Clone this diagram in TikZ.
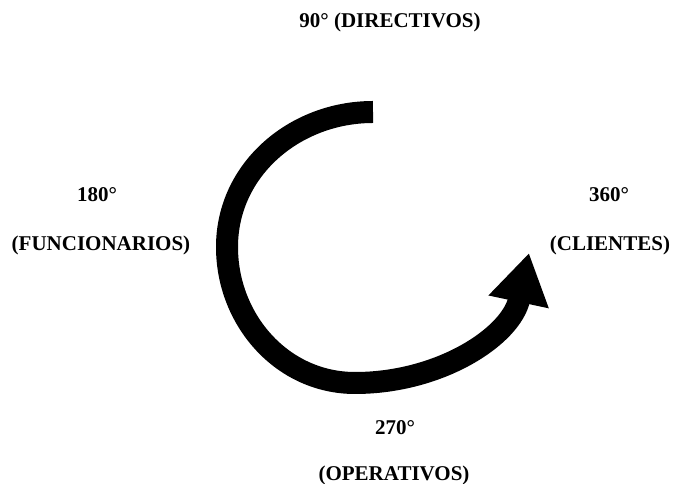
\documentclass[tikz,border=0pt]{standalone}
\usepackage{fontspec}
\setmainfont{Liberation Serif}
\usetikzlibrary{arrows.meta,positioning}

\tikzset{
  grado/.style={font=\fontsize{21}{25}\selectfont\bfseries, inner sep=0pt},
  giro/.style={line width=22pt, -{Triangle[width=58pt,length=50pt]}}
}

\begin{document}
\begin{tikzpicture}[x=1pt,y=1pt]
    \useasboundingbox (0,0) rectangle (673,484);
    % Arrow of the rotation
    \coordinate (inicio) at (373,372);
    \coordinate (izq) at (227,237);
    \coordinate (abajo) at (355,101);
    \coordinate (punta) at (529,231);
    \draw[giro] (inicio) to[out=180,in=90] (izq)
        to[out=-90,in=180] (abajo) to[out=0,in=-102] (punta);
    % Labels
    \node[grado] (noventa) at (390,462) {90° (DIRECTIVOS)};
    \node[grado] (ciento) at (97,289) {180°};
    \node[grado] (funcionarios) at (101,239) {(FUNCIONARIOS)};
    \node[grado] (trescientos) at (609,289) {360°};
    \node[grado] (clientes) at (610,239) {(CLIENTES)};
    \node[grado] (doscientos) at (395,56) {270°};
    \node[grado] (operativos) at (394,9) {(OPERATIVOS)};
\end{tikzpicture}
\end{document}
